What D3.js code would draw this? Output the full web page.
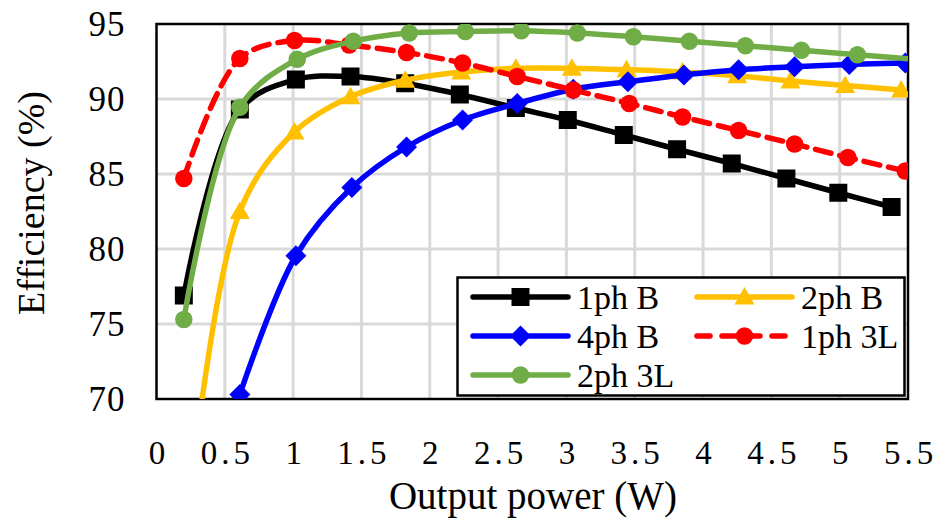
<!DOCTYPE html>
<html>
<head>
<meta charset="utf-8">
<script src="https://cdn.jsdelivr.net/npm/d3@7"></script>
<style>
  html, body { margin: 0; padding: 0; background: #fff; }
  svg { display: block; }
  svg text { font-family: "Liberation Serif", "Times New Roman", serif !important; fill: #000; }
</style>
</head>
<body>
<svg id="chart" width="941" height="522"></svg>
<script>
// Efficiency vs output power for five converter configurations
const seriesNames = ["1ph B", "2ph B", "4ph B", "1ph 3L", "2ph 3L"];

const power1phB  = [0.2, 0.61, 1.02, 1.42, 1.82, 2.22, 2.63, 3.01, 3.42, 3.81, 4.21, 4.61, 4.99, 5.38];
const eff1phB    = [76.9, 89.3, 91.3, 91.5, 91.05, 90.3, 89.4, 88.6, 87.6, 86.65, 85.7, 84.7, 83.75, 82.8];

const power2phB  = [0.2, 0.61, 1.01, 1.42, 1.82, 2.23, 2.63, 3.04, 3.44, 3.85, 4.25, 4.64, 5.04, 5.45];
const eff2phB    = [60.0, 82.5, 87.8, 90.15, 91.25, 91.8, 92.05, 92.05, 91.95, 91.8, 91.55, 91.2, 90.9, 90.6];

const power4phB  = [0.61, 1.02, 1.43, 1.83, 2.24, 2.64, 3.05, 3.45, 3.86, 4.26, 4.67, 5.07, 5.48];
const eff4phB    = [70.3, 79.55, 84.1, 86.8, 88.6, 89.7, 90.65, 91.15, 91.6, 91.95, 92.15, 92.3, 92.4];

const power1ph3L = [0.2, 0.61, 1.01, 1.41, 1.83, 2.24, 2.64, 3.05, 3.46, 3.85, 4.26, 4.67, 5.06, 5.48];
const eff1ph3L   = [84.7, 92.7, 93.9, 93.6, 93.1, 92.4, 91.5, 90.6, 89.7, 88.8, 87.9, 87.0, 86.1, 85.2];

const power2ph3L = [0.2, 0.61, 1.03, 1.44, 1.85, 2.26, 2.67, 3.08, 3.49, 3.9, 4.31, 4.72, 5.13, 5.54];
const eff2ph3L   = [75.3, 89.45, 92.65, 93.85, 94.4, 94.5, 94.55, 94.4, 94.15, 93.85, 93.55, 93.25, 92.95, 92.65];

const xTicks = [0, 0.5, 1, 1.5, 2, 2.5, 3, 3.5, 4, 4.5, 5, 5.5];
const yTicks = [70, 75, 80, 85, 90, 95];
const xTitle = "Output power (W)";
const yTitle = "Efficiency (%)";

const seriesStyle = [
  { color: "#000000", marker: "square",   dash: null },
  { color: "#FFC000", marker: "triangle", dash: null },
  { color: "#0000FF", marker: "diamond",  dash: null },
  { color: "#FF0000", marker: "circle",   dash: "16,9" },
  { color: "#70AD47", marker: "circle",   dash: null }
];

const seriesData = [
  d3.zip(power1phB, eff1phB),
  d3.zip(power2phB, eff2phB),
  d3.zip(power4phB, eff4phB),
  d3.zip(power1ph3L, eff1ph3L),
  d3.zip(power2ph3L, eff2ph3L)
];

const plot = { left: 156.5, right: 908, top: 24, bottom: 399 };
const svg = d3.select("#chart");
const serif = "Liberation Serif";

const x = d3.scaleLinear().domain([0, 5.5]).range([plot.left, plot.right]);
const y = d3.scaleLinear().domain([70, 95]).range([plot.bottom, plot.top]);

svg.append("defs").append("clipPath").attr("id", "plotClip")
  .append("rect")
  .attr("x", plot.left).attr("y", plot.top)
  .attr("width", plot.right - plot.left).attr("height", plot.bottom - plot.top);

// Gridlines
const grid = svg.append("g").attr("stroke", "#d9d9d9").attr("stroke-width", 3);
grid.selectAll("line.v").data(xTicks.slice(1, -1)).join("line")
  .attr("x1", d => x(d)).attr("x2", d => x(d))
  .attr("y1", plot.top).attr("y2", plot.bottom);
grid.selectAll("line.h").data(yTicks.slice(1, -1)).join("line")
  .attr("x1", plot.left).attr("x2", plot.right)
  .attr("y1", d => y(d)).attr("y2", d => y(d));

// Axes (labels only; frame drawn separately)
const xAxis = svg.append("g").attr("transform", `translate(0,${plot.bottom})`)
  .call(d3.axisBottom(x).tickValues(xTicks).tickSize(0).tickPadding(42).tickFormat(d3.format("")))
  .attr("font-family", serif).attr("font-size", 33);
xAxis.select(".domain").remove();
xAxis.selectAll("text")
  .attr("letter-spacing", "4px").attr("dx", "2px").attr("fill", "#000");

const yAxis = svg.append("g").attr("transform", `translate(${plot.left},0)`)
  .call(d3.axisLeft(y).tickValues(yTicks).tickSize(0).tickPadding(31))
  .attr("font-family", serif).attr("font-size", 35);
yAxis.select(".domain").remove();
yAxis.selectAll("text").attr("letter-spacing", "1px").attr("fill", "#000");

// Plot frame
svg.append("rect")
  .attr("x", plot.left).attr("y", plot.top)
  .attr("width", plot.right - plot.left).attr("height", plot.bottom - plot.top)
  .attr("fill", "none").attr("stroke", "#000").attr("stroke-width", 2.5);

// Marker shapes
const markerPaths = {
  square: "M-9,-9H9V9H-9Z",
  triangle: "M0,-10L10,7.5L-10,7.5Z",
  diamond: "M0,-10.5L10.5,0L0,10.5L-10.5,0Z",
  circle: d3.symbol().type(d3.symbolCircle).size(240)()
};

const line = d3.line()
  .x(d => x(d[0])).y(d => y(d[1]))
  .curve(d3.curveCatmullRom.alpha(0.5));

const plotG = svg.append("g").attr("clip-path", "url(#plotClip)");
seriesData.forEach((pts, i) => {
  const st = seriesStyle[i];
  const g = plotG.append("g");
  g.append("path")
    .attr("d", line(pts))
    .attr("fill", "none")
    .attr("stroke", st.color)
    .attr("stroke-width", 5.5)
    .attr("stroke-linecap", st.dash ? "round" : "butt")
    .attr("stroke-dasharray", st.dash);
  g.selectAll("path.m")
    .data(pts.filter(p => p[0] <= 5.5 && p[1] >= 70))
    .join("path")
    .attr("class", "m")
    .attr("d", markerPaths[st.marker])
    .attr("transform", d => `translate(${x(d[0])},${y(d[1])})`)
    .attr("fill", st.color);
});

// Legend
const legend = svg.append("g").attr("font-family", serif);
legend.append("rect")
  .attr("x", 457.5).attr("y", 277.5).attr("width", 447).attr("height", 118)
  .attr("fill", "#fff").attr("stroke", "#000").attr("stroke-width", 2.5);
const legendPos = [
  { lx: 473, ty: 297 }, { lx: 697, ty: 297 },
  { lx: 473, ty: 336 }, { lx: 697, ty: 336 },
  { lx: 473, ty: 375 }
];
seriesNames.forEach((name, i) => {
  const st = seriesStyle[i];
  const p = legendPos[i];
  const item = legend.append("g");
  item.append("line")
    .attr("x1", p.lx).attr("x2", p.lx + 95)
    .attr("y1", p.ty).attr("y2", p.ty)
    .attr("stroke", st.color).attr("stroke-width", 5.5)
    .attr("stroke-linecap", "round")
    .attr("stroke-dasharray", st.dash ? "13,12" : null);
  item.append("path")
    .attr("d", markerPaths[st.marker])
    .attr("transform", `translate(${p.lx + 47.5},${p.ty})`)
    .attr("fill", st.color);
  item.append("text")
    .attr("x", p.lx + 104).attr("y", p.ty + 12)
    .attr("font-size", 34)
    .text(name);
});

// Axis titles
svg.append("text")
  .attr("x", 533).attr("y", 509)
  .attr("text-anchor", "middle")
  .attr("font-family", serif)
  .attr("font-size", 39)
  .text(xTitle);

svg.append("text")
  .attr("transform", "translate(44,203) rotate(-90)")
  .attr("text-anchor", "middle")
  .attr("font-family", serif)
  .attr("font-size", 38)
  .text(yTitle);
</script>
</body>
</html>
